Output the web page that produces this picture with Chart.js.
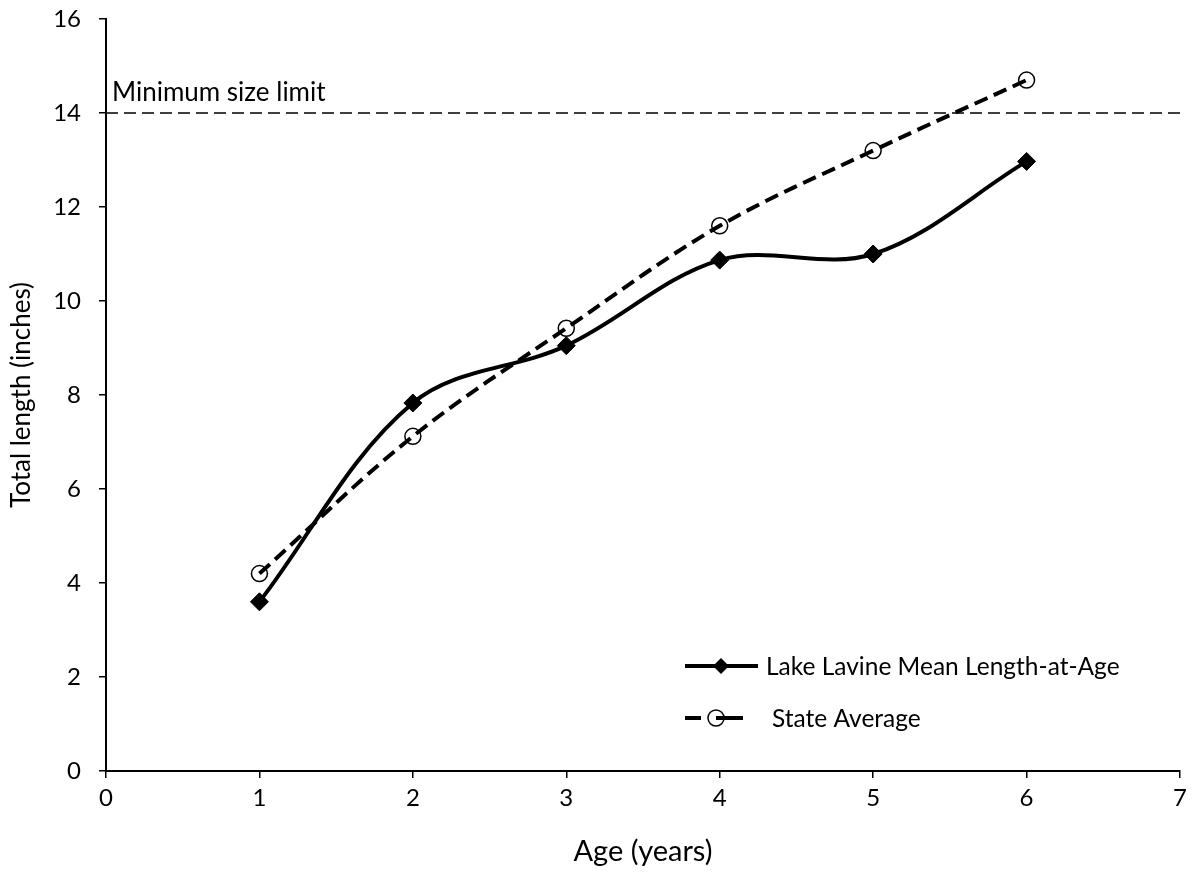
<!DOCTYPE html>
<html>
<head>
<meta charset="utf-8">
<script src="https://cdn.jsdelivr.net/npm/chart.js@4/dist/chart.umd.min.js"></script>
<style>
  html, body { margin: 0; padding: 0; background: #fff; }
  #wrap { width: 1192px; height: 873px; }
</style>
</head>
<body>
<div id="wrap"><canvas id="c" width="1192" height="873"></canvas></div>
<script>
var ages = [1, 2, 3, 4, 5, 6];
var lakeLavine = [3.6, 7.83, 9.05, 10.87, 11.0, 12.97];
var stateAvg = [4.2, 7.12, 9.42, 11.6, 13.2, 14.7];
var minSize = 14;
var xTicks = [0, 7];
var yTicks = [0, 16];
var FONT = "Lato, 'Open Sans', sans-serif";

function pts(xs, ys) {
    var out = [];
    for (var i = 0; i < xs.length; i++) out.push({ x: xs[i], y: ys[i] });
    return out;
}

// text label for the limit line + custom legend
var extras = {
    id: 'extras',
    afterDraw: function (chart) {
        var ctx = chart.ctx;
        var ys = chart.scales.y;
        var a = chart.chartArea;
        ctx.save();
        ctx.fillStyle = '#000';
        ctx.textBaseline = 'alphabetic';
        ctx.textAlign = 'left';
        ctx.font = '26px ' + FONT;
        ctx.fillText('Minimum size limit', a.left + 6, ys.getPixelForValue(minSize) - 12);

        // legend
        ctx.font = '24.5px ' + FONT;
        var lx = 685, ly1 = 666, ly2 = 718;
        ctx.strokeStyle = '#000';
        ctx.lineWidth = 4;
        ctx.beginPath(); ctx.moveTo(lx, ly1); ctx.lineTo(lx + 73, ly1); ctx.stroke();
        ctx.beginPath();
        ctx.moveTo(lx + 36, ly1 - 8); ctx.lineTo(lx + 44, ly1); ctx.lineTo(lx + 36, ly1 + 8); ctx.lineTo(lx + 28, ly1);
        ctx.closePath(); ctx.fill();
        ctx.fillText('Lake Lavine Mean Length-at-Age', 766, ly1 + 9);

        ctx.beginPath(); ctx.moveTo(lx, ly2); ctx.lineTo(lx + 16, ly2); ctx.stroke();
        ctx.beginPath(); ctx.moveTo(lx + 31, ly2); ctx.lineTo(lx + 58, ly2); ctx.stroke();
        ctx.lineWidth = 1.5;
        ctx.beginPath(); ctx.arc(lx + 31, ly2, 8, 0, Math.PI * 2); ctx.stroke();
        ctx.fillText('State Average', 772, ly2 + 9);
        ctx.restore();
    }
};

new Chart(document.getElementById('c').getContext('2d'), {
    type: 'line',
    data: {
        datasets: [
            {
                label: 'Minimum size limit',
                data: [{ x: xTicks[0], y: minSize }, { x: xTicks[1], y: minSize }],
                borderColor: '#000',
                borderWidth: 1.5,
                borderDash: [12, 6],
                pointRadius: 0,
                tension: 0
            },
            {
                label: 'Lake Lavine Mean Length-at-Age',
                data: pts(ages, lakeLavine),
                borderColor: '#000',
                backgroundColor: '#000',
                borderWidth: 4,
                pointStyle: 'rectRot',
                pointRadius: 9,
                pointBorderWidth: 1,
                tension: 0.35
            },
            {
                label: 'State Average',
                data: pts(ages, stateAvg),
                borderColor: '#000',
                backgroundColor: 'rgba(0,0,0,0)',
                borderWidth: 4,
                borderDash: [14, 7],
                pointStyle: 'circle',
                pointRadius: 8,
                pointBorderWidth: 1.5,
                tension: 0.35
            }
        ]
    },
    options: {
        responsive: false,
        animation: false,
        layout: { padding: { top: 19, right: 12, left: 0, bottom: 0 } },
        plugins: { legend: { display: false }, tooltip: { enabled: false } },
        scales: {
            x: {
                type: 'linear',
                min: xTicks[0], max: xTicks[1],
                ticks: { stepSize: 1, color: '#000', font: { family: FONT, size: 24 }, padding: 6 },
                grid: { drawOnChartArea: false, color: '#000', tickLength: 7, lineWidth: 1.5 },
                border: { color: '#000', width: 2 },
                title: { display: true, text: 'Age (years)', color: '#000', font: { family: FONT, size: 29 }, padding: { top: 6 } },
                afterFit: function (s) { s.height = 102; s.paddingLeft = 0; s.paddingRight = 0; }
            },
            y: {
                min: yTicks[0], max: yTicks[1],
                ticks: { stepSize: 2, color: '#000', font: { family: FONT, size: 24 }, padding: 18 },
                grid: { drawOnChartArea: false, color: '#000', tickLength: 7, lineWidth: 1.5 },
                border: { color: '#000', width: 2 },
                title: { display: true, text: 'Total length (inches)', color: '#000', font: { family: FONT, size: 26 }, padding: { top: 6, bottom: 8 } },
                afterFit: function (s) { s.width = 106; s.paddingTop = 0; s.paddingBottom = 0; }
            }
        }
    },
    plugins: [extras]
});
</script>
</body>
</html>
